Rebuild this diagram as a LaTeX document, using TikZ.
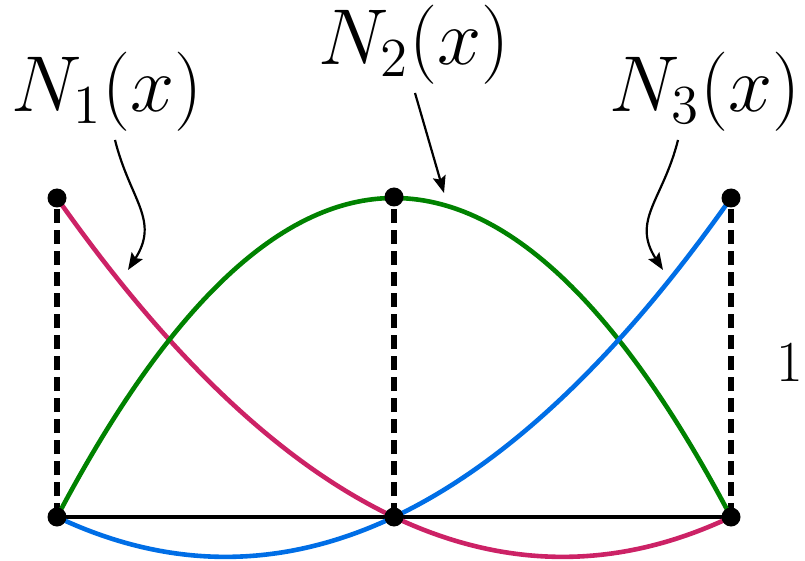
\documentclass[tikz,border=0pt]{standalone}
\usepackage{graphicx}
\usetikzlibrary{arrows.meta}
\definecolor{magc}{RGB}{204,34,102}
\definecolor{grnc}{RGB}{0,130,0}
\definecolor{bluc}{RGB}{0,110,230}
\newcommand{\biglab}[1]{\scalebox{3.82}{\huge #1}}
\begin{document}
\begin{tikzpicture}[x=1pt,y=1pt,
  curve/.style={line width=4.6pt},
  guide/.style={line width=6pt,dash pattern=on 14pt off 7pt},
  base/.style={line width=4.8pt},
  dotn/.style={circle,fill=black,inner sep=0pt,minimum size=19pt},
  lab/.style={inner sep=0pt},
  pointer/.style={line width=2.2pt,-{Stealth[length=17pt,width=13pt,inset=3pt]}}]
\useasboundingbox (0,0) rectangle (805,560);
% guides
\coordinate (b1) at (57,43);
\coordinate (b2) at (394,43);
\coordinate (b3) at (731,43);
\coordinate (t1) at (57,362);
\coordinate (t2) at (394,363);
\coordinate (t3) at (731,362);
\draw[guide] (b1) -- (t1);
\draw[guide] (b2) -- (t2);
\draw[guide] (b3) -- (t3);
\draw[base] (b1) -- (b3);
% shape functions
\draw[curve,magc] plot[domain=0:1,samples=120] ({57+674*\x},{43+319*(2*(\x-0.5)*(\x-1))});
\draw[curve,grnc] plot[domain=0:1,samples=120] ({57+674*\x},{43+319*(4*\x*(1-\x))});
\draw[curve,bluc] plot[domain=0:1,samples=120] ({57+674*\x},{43+319*(2*\x*(\x-0.5))});
% dots
\node[dotn] (d1) at (t1) {};
\node[dotn] (d2) at (t2) {};
\node[dotn] (d3) at (t3) {};
\node[dotn] (e1) at (b1) {};
\node[dotn] (e2) at (b2) {};
\node[dotn] (e3) at (b3) {};
% labels
\node[lab,anchor=base] (L1) at (107,448) {\biglab{$N_1(x)$}};
\node[lab,anchor=base] (L2) at (414,495) {\biglab{$N_2(x)$}};
\node[lab,anchor=base] (L3) at (705,448) {\biglab{$N_3(x)$}};
\node[inner sep=0pt] (one) at (790,198) {\scalebox{2.8}{\huge 1}};
% pointers
\coordinate (s1) at (115,420);
\coordinate (p1) at (128,290);
\coordinate (s2) at (415,467);
\coordinate (p2) at (444,367);
\coordinate (s3) at (678,420);
\coordinate (p3) at (663,290);
\draw[pointer] (s1) .. controls +(15,-60) and +(32,50) .. (p1);
\draw[pointer] (s2) -- (p2);
\draw[pointer] (s3) .. controls +(-15,-60) and +(-32,50) .. (p3);
\end{tikzpicture}
\end{document}
